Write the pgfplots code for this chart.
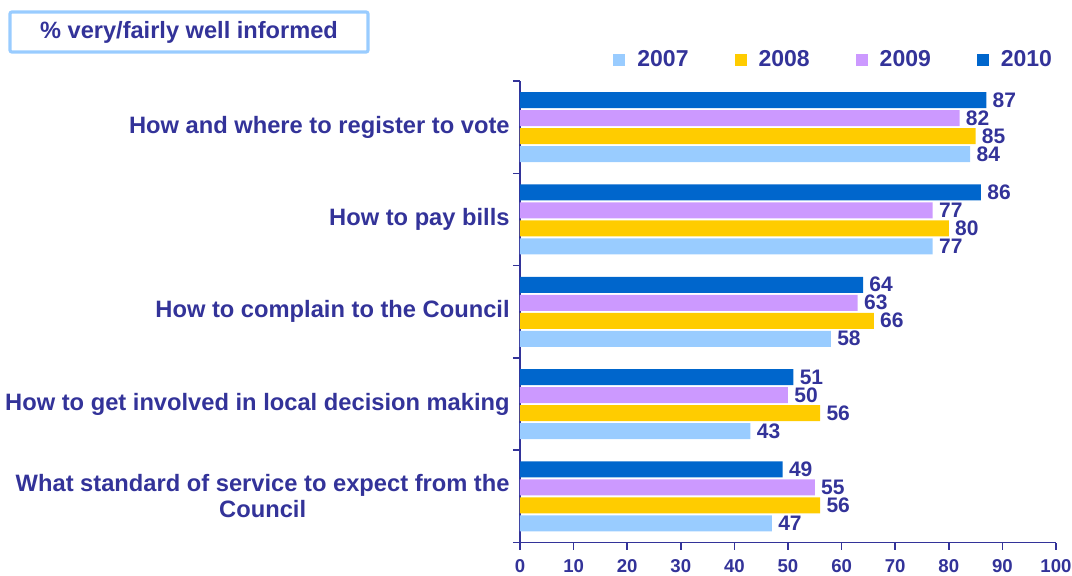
\documentclass[border=0pt]{standalone}
\usepackage{pgfplots}
\pgfplotsset{compat=1.18}
\usepackage{fontspec}
\setmainfont{Liberation Sans}
\definecolor{navy}{HTML}{333399}
\definecolor{cA}{HTML}{99CCFF}
\definecolor{cB}{HTML}{FFCC00}
\definecolor{cC}{HTML}{CC99FF}
\definecolor{cD}{HTML}{0066CC}
\begin{document}
\begin{tikzpicture}
\useasboundingbox (0,0) rectangle (536pt,287.5pt);
% title box
\draw[cA, line width=1.6pt, rounded corners=1pt] (5pt,261.5pt) rectangle (184pt,281.5pt);
\node[text=navy, font=\fontsize{11.8}{13}\selectfont\bfseries] at (94.5pt,271.5pt) {\% very/fairly well informed};
\begin{axis}[
    scale only axis,
    width=268pt, height=230.75pt,
    anchor=south west, at={(260pt,16.25pt)},
    xbar=1pt, bar width=8pt,
    xmin=0, xmax=100, ymin=-0.5, ymax=4.5,
    axis lines*=left,
    axis line style={navy, line width=0.75pt},
    tick style={navy, line width=0.75pt},
    tick align=outside,
    major tick length=3.5pt,
    xtick={0,10,...,100},
    ytick={-0.5,0.5,...,4.5},
    yticklabels={},
    extra y ticks={0,1,2,3,4},
    extra y tick labels={{What standard of service to expect from the\\Council},
        How to get involved in local decision making,
        How to complain to the Council,
        How to pay bills,
        How and where to register to vote},
    extra y tick style={major tick length=0pt},
    yticklabel style={text=navy, align=center, inner sep=0pt, xshift=-5pt,
        font=\fontsize{11.85}{13}\selectfont\bfseries},
    xticklabel style={text=navy, inner sep=0pt, yshift=-4.8pt,
        font=\fontsize{9.3}{10}\selectfont\bfseries},
    /pgf/number format/assume math mode=true,
    nodes near coords,
    nodes near coords style={text=navy, anchor=west, inner sep=0pt, xshift=3pt,
        font=\fontsize{10.5}{12}\selectfont\bfseries},
    legend columns=4,
    legend style={draw=none, fill=none, inner sep=0pt, anchor=west,
        at={(0.1735,1.0455)}, text=navy,
        font=\fontsize{11.5}{12}\selectfont\bfseries,
        nodes={inner sep=2pt},
        /tikz/every even column/.append style={column sep=21pt}},
    legend image code/.code={\fill[#1] (0pt,-3pt) rectangle (6pt,3pt); \path (10pt,0pt);},
]
\addplot[fill=cA, draw=none] coordinates {(47,0) (43,1) (58,2) (77,3) (84,4)};
\addplot[fill=cB, draw=none] coordinates {(56,0) (56,1) (66,2) (80,3) (85,4)};
\addplot[fill=cC, draw=none] coordinates {(55,0) (50,1) (63,2) (77,3) (82,4)};
\addplot[fill=cD, draw=none] coordinates {(49,0) (51,1) (64,2) (86,3) (87,4)};
\legend{2007,2008,2009,2010}
\end{axis}
\end{tikzpicture}
\end{document}
